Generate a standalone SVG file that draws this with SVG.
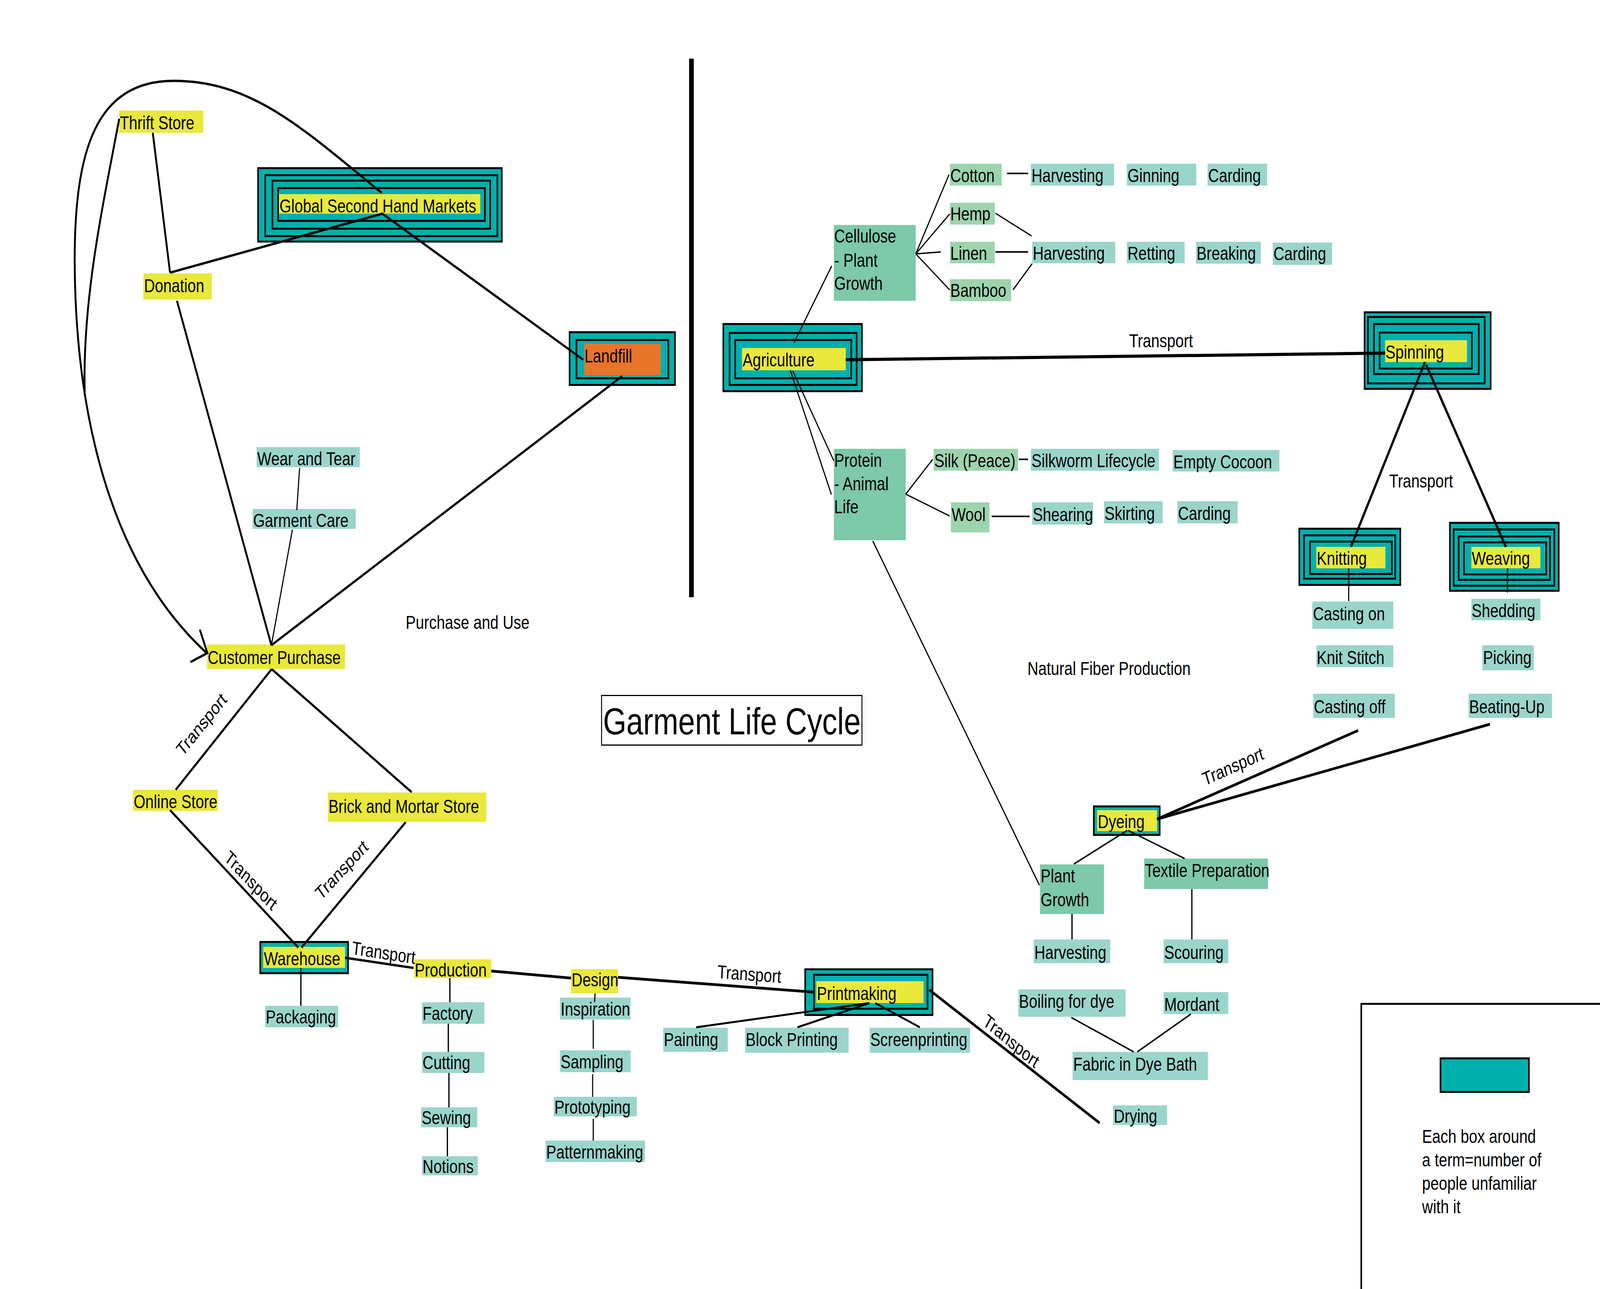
<svg xmlns="http://www.w3.org/2000/svg" width="5100" height="3300" viewBox="0 0 5100 3300" preserveAspectRatio="none" style="width:100%;height:100%">
<style>
text{font-family:"Liberation Sans",Arial,Helvetica,sans-serif;font-size:48px;fill:#000}
.y{fill:#e9e83b}.lt{fill:#9ad5cc}.g{fill:#7dc9aa}.lg{fill:#9dd4ae}.or{fill:#e8742a}
.nb{fill:#00b0ac;stroke:#000;stroke-width:5}
.c{stroke:#000;fill:none;stroke-linecap:butt;stroke-linejoin:miter}
.w8{stroke-width:8}.w7{stroke-width:7}.w6{stroke-width:6}.w5{stroke-width:5}.w4{stroke-width:4}.w3{stroke-width:3.5}
</style>
<rect width="5100" height="3300" fill="#fff"/>

<!-- divider and frames -->
<g id="divider"><line x1="2204" y1="150" x2="2204" y2="1529" stroke="#000" stroke-width="15"/></g>
<g id="title"><rect x="1917.5" y="1780.5" width="830" height="127" fill="none" stroke="#000" stroke-width="3"/><text x="1922" y="1880" style="font-size:96px">Garment Life Cycle</text></g>
<g id="section-purchase"><text x="1293" y="1610">Purchase and Use</text></g>
<g id="section-natural"><text x="3275" y="1728">Natural Fiber Production</text></g>
<g id="legend">
<path d="M4339,3300 V2570 H5100" fill="none" stroke="#000" stroke-width="5"/>
<rect class="nb" x="4591.5" y="2709.5" width="282" height="86"/>
<text x="4533" y="2926">Each box around</text>
<text x="4533" y="2986">a term=number of</text>
<text x="4533" y="3046">people unfamiliar</text>
<text x="4533" y="3106">with it</text>
</g>

<!-- nodes: left -->
<g id="thrift-store"><rect class="y" x="380" y="283" width="268" height="57"/><text x="382" y="331">Thrift Store</text></g>
<g id="global-second-hand-markets">
<rect class="nb" x="822.5" y="430.5" width="777" height="188"/><rect class="nb" x="845.5" y="448.5" width="740" height="156"/><rect class="nb" x="868.5" y="462.5" width="694" height="123"/><rect class="nb" x="886.5" y="481.5" width="659" height="84"/>
<rect class="y" x="889" y="497" width="642" height="50"/><text x="891" y="544">Global Second Hand Markets</text></g>
<g id="donation"><rect class="y" x="457" y="700" width="218" height="67"/><text x="459" y="748">Donation</text></g>
<g id="landfill"><rect class="nb" x="1815.5" y="850.5" width="336" height="135"/><rect class="nb" x="1837.5" y="870.5" width="293" height="98"/><rect class="or" x="1862" y="880" width="244" height="81"/><text x="1863" y="928">Landfill</text></g>
<g id="wear-and-tear"><rect class="lt" x="818" y="1145" width="329" height="51"/><text x="820" y="1191">Wear and Tear</text></g>
<g id="garment-care"><rect class="lt" x="805" y="1303" width="329" height="51"/><text x="807" y="1349">Garment Care</text></g>
<g id="customer-purchase"><rect class="y" x="660" y="1650" width="440" height="63"/><text x="662" y="1700">Customer Purchase</text></g>
<g id="online-store"><rect class="y" x="424" y="2022" width="270" height="54"/><text x="426" y="2069">Online Store</text></g>
<g id="brick-and-mortar-store"><rect class="y" x="1045" y="2029" width="505" height="75"/><text x="1047" y="2081">Brick and Mortar Store</text></g>
<g id="warehouse"><rect class="nb" x="829.5" y="2411.5" width="280" height="80"/><rect class="y" x="839" y="2424" width="261" height="54"/><text x="841" y="2471">Warehouse</text></g>
<g id="packaging"><rect class="lt" x="845" y="2575" width="233" height="55"/><text x="847" y="2620">Packaging</text></g>
<g id="production"><rect class="y" x="1320" y="2456" width="246" height="48"/><text x="1322" y="2500">Production</text></g>
<g id="factory"><rect class="lt" x="1345" y="2566" width="199" height="55"/><text x="1347" y="2611">Factory</text></g>
<g id="cutting"><rect class="lt" x="1345" y="2693" width="199" height="54"/><text x="1347" y="2737">Cutting</text></g>
<g id="sewing"><rect class="lt" x="1342" y="2835" width="179" height="51"/><text x="1344" y="2878">Sewing</text></g>
<g id="notions"><rect class="lt" x="1345" y="2960" width="178" height="49"/><text x="1347" y="3003">Notions</text></g>
<g id="design"><rect class="y" x="1820" y="2481" width="150" height="62"/><text x="1822" y="2525">Design</text></g>
<g id="inspiration"><rect class="lt" x="1785" y="2554" width="225" height="56"/><text x="1787" y="2600">Inspiration</text></g>
<g id="sampling"><rect class="lt" x="1785" y="2689" width="225" height="56"/><text x="1787" y="2735">Sampling</text></g>
<g id="prototyping"><rect class="lt" x="1765" y="2808" width="265" height="50"/><text x="1767" y="2851">Prototyping</text></g>
<g id="patternmaking"><rect class="lt" x="1739" y="2920" width="317" height="55"/><text x="1741" y="2966">Patternmaking</text></g>
<g id="printmaking"><rect class="nb" x="2566.5" y="2481.5" width="406" height="117"/><rect class="nb" x="2594.5" y="2495.5" width="362" height="87"/><rect class="y" x="2602" y="2512" width="342" height="56"/><text x="2604" y="2560">Printmaking</text></g>
<g id="painting"><rect class="lt" x="2114" y="2631" width="206" height="62"/><text x="2116" y="2678">Painting</text></g>
<g id="block-printing"><rect class="lt" x="2375" y="2631" width="330" height="64"/><text x="2377" y="2678">Block Printing</text></g>
<g id="screenprinting"><rect class="lt" x="2772" y="2631" width="320" height="64"/><text x="2774" y="2678">Screenprinting</text></g>

<!-- nodes: right -->
<g id="agriculture"><rect class="nb" x="2305.5" y="829.5" width="442" height="172"/><rect class="nb" x="2325.5" y="852.5" width="405" height="133"/><rect class="nb" x="2343.5" y="870.5" width="370" height="98"/><rect class="y" x="2365" y="891" width="331" height="57"/><text x="2367" y="938">Agriculture</text></g>
<g id="cellulose"><rect class="g" x="2658" y="576" width="261" height="194"/><text x="2659" y="621">Cellulose</text><text x="2659" y="683">- Plant</text><text x="2659" y="742">Growth</text></g>
<g id="protein"><rect class="g" x="2658" y="1149" width="229" height="234"/><text x="2659" y="1195">Protein</text><text x="2659" y="1255">- Animal</text><text x="2659" y="1314">Life</text></g>
<g id="cotton"><rect class="lg" x="3028" y="419" width="165" height="56"/><text x="3029" y="466">Cotton</text></g>
<g id="hemp"><rect class="lg" x="3028" y="519" width="143" height="56"/><text x="3029" y="564">Hemp</text></g>
<g id="linen"><rect class="lg" x="3028" y="619" width="143" height="55"/><text x="3029" y="665">Linen</text></g>
<g id="bamboo"><rect class="lg" x="3028" y="715" width="195" height="56"/><text x="3029" y="760">Bamboo</text></g>
<g id="harvesting-cotton"><rect class="lt" x="3286" y="419" width="265" height="56"/><text x="3288" y="466">Harvesting</text></g>
<g id="ginning"><rect class="lt" x="3592" y="419" width="221" height="56"/><text x="3594" y="466">Ginning</text></g>
<g id="carding-cotton"><rect class="lt" x="3849" y="419" width="190" height="56"/><text x="3851" y="466">Carding</text></g>
<g id="harvesting-bast"><rect class="lt" x="3290" y="619" width="265" height="55"/><text x="3292" y="665">Harvesting</text></g>
<g id="retting"><rect class="lt" x="3592" y="619" width="184" height="55"/><text x="3594" y="665">Retting</text></g>
<g id="breaking"><rect class="lt" x="3812" y="619" width="207" height="56"/><text x="3814" y="665">Breaking</text></g>
<g id="carding-bast"><rect class="lt" x="4057" y="621" width="189" height="57"/><text x="4059" y="666">Carding</text></g>
<g id="silk"><rect class="lg" x="2976" y="1149" width="269" height="56"/><text x="2978" y="1196">Silk (Peace)</text></g>
<g id="silkworm-lifecycle"><rect class="lt" x="3286" y="1149" width="408" height="56"/><text x="3288" y="1196">Silkworm Lifecycle</text></g>
<g id="empty-cocoon"><rect class="lt" x="3738" y="1152" width="340" height="55"/><text x="3740" y="1199">Empty Cocoon</text></g>
<g id="wool"><rect class="lg" x="3031" y="1286" width="123" height="77"/><text x="3033" y="1334">Wool</text></g>
<g id="shearing"><rect class="lt" x="3290" y="1286" width="194" height="57"/><text x="3292" y="1334">Shearing</text></g>
<g id="skirting"><rect class="lt" x="3519" y="1283" width="187" height="57"/><text x="3521" y="1331">Skirting</text></g>
<g id="carding-wool"><rect class="lt" x="3753" y="1283" width="192" height="57"/><text x="3755" y="1331">Carding</text></g>
<g id="spinning"><rect class="nb" x="4349.5" y="799.5" width="402" height="196"/><rect class="nb" x="4360.5" y="811.5" width="372" height="170"/><rect class="nb" x="4379.5" y="829.5" width="334" height="128"/><rect class="nb" x="4397.5" y="851.5" width="294" height="92"/><rect class="y" x="4415" y="871" width="261" height="56"/><text x="4416" y="918">Spinning</text></g>
<g id="knitting"><rect class="nb" x="4141.5" y="1353.5" width="322" height="144"/><rect class="nb" x="4156.5" y="1370.5" width="291" height="111"/><rect class="nb" x="4175.5" y="1386.5" width="261" height="83"/><rect class="y" x="4196" y="1400" width="220" height="55"/><text x="4197" y="1446">Knitting</text></g>
<g id="weaving"><rect class="nb" x="4621.5" y="1338.5" width="347" height="174"/><rect class="nb" x="4633.5" y="1355.5" width="321" height="144"/><rect class="nb" x="4649.5" y="1373.5" width="291" height="111"/><rect class="nb" x="4666.5" y="1388.5" width="262" height="82"/><rect class="y" x="4690" y="1400" width="220" height="55"/><text x="4691" y="1446">Weaving</text></g>
<g id="casting-on"><rect class="lt" x="4183" y="1540" width="258" height="70"/><text x="4185" y="1588">Casting on</text></g>
<g id="knit-stitch"><rect class="lt" x="4196" y="1652" width="245" height="56"/><text x="4197" y="1700">Knit Stitch</text></g>
<g id="casting-off"><rect class="lt" x="4186" y="1776" width="260" height="62"/><text x="4188" y="1826">Casting off</text></g>
<g id="shedding"><rect class="lt" x="4690" y="1533" width="220" height="55"/><text x="4691" y="1580">Shedding</text></g>
<g id="picking"><rect class="lt" x="4725" y="1652" width="164" height="64"/><text x="4727" y="1700">Picking</text></g>
<g id="beating-up"><rect class="lt" x="4681" y="1776" width="266" height="62"/><text x="4683" y="1826">Beating-Up</text></g>
<g id="dyeing"><rect class="nb" x="3486.5" y="2064.5" width="210" height="73"/><rect class="y" x="3497" y="2074" width="191" height="54"/><text x="3499" y="2120">Dyeing</text></g>
<g id="plant-growth"><rect class="g" x="3315" y="2213" width="204" height="127"/><text x="3317" y="2259">Plant</text><text x="3317" y="2320">Growth</text></g>
<g id="textile-preparation"><rect class="g" x="3647" y="2198" width="395" height="78"/><text x="3649" y="2245">Textile Preparation</text></g>
<g id="harvesting-dye"><rect class="lt" x="3295" y="2405" width="244" height="61"/><text x="3297" y="2455">Harvesting</text></g>
<g id="scouring"><rect class="lt" x="3709" y="2405" width="206" height="61"/><text x="3711" y="2455">Scouring</text></g>
<g id="boiling-for-dye"><rect class="lt" x="3246" y="2533" width="342" height="70"/><text x="3248" y="2580">Boiling for dye</text></g>
<g id="mordant"><rect class="lt" x="3709" y="2540" width="206" height="56"/><text x="3711" y="2588">Mordant</text></g>
<g id="fabric-in-dye-bath"><rect class="lt" x="3419" y="2693" width="431" height="72"/><text x="3421" y="2741">Fabric in Dye Bath</text></g>
<g id="drying"><rect class="lt" x="3548" y="2830" width="172" height="50"/><text x="3550" y="2874">Drying</text></g>

<!-- connectors -->
<g id="connectors" class="c">
<g class="w6">
<line x1="487" y1="340" x2="542" y2="698"/>
<line x1="542" y1="698" x2="1219" y2="547"/>
<line x1="1217" y1="546" x2="1859" y2="921"/>
<line x1="1983" y1="963" x2="865" y2="1652"/>
<line x1="564" y1="770" x2="865" y2="1652"/>
<path d="M1217,494 C965,329 804,207 554,207 C304,207 238,387 238,667 C240,1050 345,1440 659,1672"/>
<path d="M380,304 C330,520 262,760 270,1009"/>
<polyline points="637,1612 661,1672 607,1695"/>
<line x1="866" y1="1713" x2="560" y2="2022"/>
<line x1="866" y1="1713" x2="1312" y2="2028"/>
<line x1="542" y1="2074" x2="951" y2="2426"/>
<line x1="1293" y1="2105" x2="961" y2="2426"/>
<line x1="1100" y1="2452" x2="1318" y2="2478"/>
</g>
<g class="w7">
<line x1="1566" y1="2486" x2="1820" y2="2504"/>
<line x1="1970" y1="2502" x2="2594" y2="2540"/>
<line x1="2962" y1="2534" x2="3505" y2="2875"/>
<line x1="4542" y1="927" x2="4306" y2="1400"/>
<line x1="4546" y1="934" x2="4800" y2="1400"/>
<line x1="3688" y1="2097" x2="4329" y2="1870"/>
<line x1="3688" y1="2097" x2="4749" y2="1854"/>
</g>
<line class="w8" x1="2696" y1="921" x2="4415" y2="904"/>
<g class="w5">
<line x1="2771" y1="2568" x2="2219" y2="2630"/>
<line x1="2771" y1="2568" x2="2542" y2="2630"/>
<line x1="2790" y1="2568" x2="2932" y2="2630"/>
</g>
<g class="w4">
<line x1="959" y1="2478" x2="959" y2="2575"/>
<line x1="1434" y1="2504" x2="1434" y2="2566"/>
<line x1="1429" y1="2621" x2="1429" y2="2693"/>
<line x1="1431" y1="2747" x2="1431" y2="2835"/>
<line x1="1426" y1="2886" x2="1426" y2="2960"/>
<line x1="3210" y1="444" x2="3277" y2="444"/>
<line x1="3173" y1="645" x2="3277" y2="645"/>
<line x1="3247" y1="1176" x2="3277" y2="1176"/>
<line x1="3161" y1="1322" x2="3282" y2="1322"/>
<line x1="3593" y1="2126" x2="3423" y2="2212"/>
<line x1="3596" y1="2126" x2="3776" y2="2198"/>
<line x1="3417" y1="2340" x2="3417" y2="2405"/>
<line x1="3799" y1="2276" x2="3799" y2="2405"/>
<line x1="3415" y1="2605" x2="3614" y2="2693"/>
<line x1="3796" y1="2596" x2="3625" y2="2693"/>
</g>
<g class="w3">
<line x1="955" y1="1198" x2="946" y2="1306"/>
<line x1="932" y1="1356" x2="865" y2="1652"/>
<line x1="1897" y1="2543" x2="1895" y2="2566"/>
<line x1="1891" y1="2611" x2="1891" y2="2685"/>
<line x1="1889" y1="2750" x2="1889" y2="2808"/>
<line x1="1891" y1="2864" x2="1891" y2="2920"/>
<line x1="2531" y1="877" x2="2651" y2="681"/>
<line x1="2519" y1="948" x2="2650" y2="1266"/>
<line x1="2527" y1="950" x2="2658" y2="1180"/>
<line x1="2919" y1="650" x2="3025" y2="447"/>
<line x1="2919" y1="650" x2="3027" y2="548"/>
<line x1="2919" y1="650" x2="2999" y2="645"/>
<line x1="2919" y1="650" x2="3027" y2="742"/>
<line x1="3173" y1="546" x2="3288" y2="604"/>
<line x1="3229" y1="742" x2="3290" y2="675"/>
<line x1="2887" y1="1265" x2="2973" y2="1176"/>
<line x1="2887" y1="1265" x2="3027" y2="1321"/>
<line x1="2782" y1="1385" x2="3313" y2="2266"/>
<line x1="4299" y1="1455" x2="4299" y2="1539"/>
<line x1="4805" y1="1455" x2="4805" y2="1517"/>
</g>
</g>

<!-- connector labels -->
<g id="connector-labels">
<text transform="translate(582,1938) rotate(-45)">Transport</text>
<text transform="translate(712,2200) rotate(40.7)">Transport</text>
<text transform="translate(1023,2306) rotate(-41)">Transport</text>
<text transform="translate(1120,2443) rotate(7)">Transport</text>
<text transform="translate(2286,2504) rotate(3.5)">Transport</text>
<text transform="translate(3130,2622) rotate(34)">Transport</text>
<text x="3599" y="889">Transport</text>
<text x="4428" y="1248">Transport</text>
<text transform="translate(3840,2012) rotate(-20)">Transport</text>
</g>
</svg>
